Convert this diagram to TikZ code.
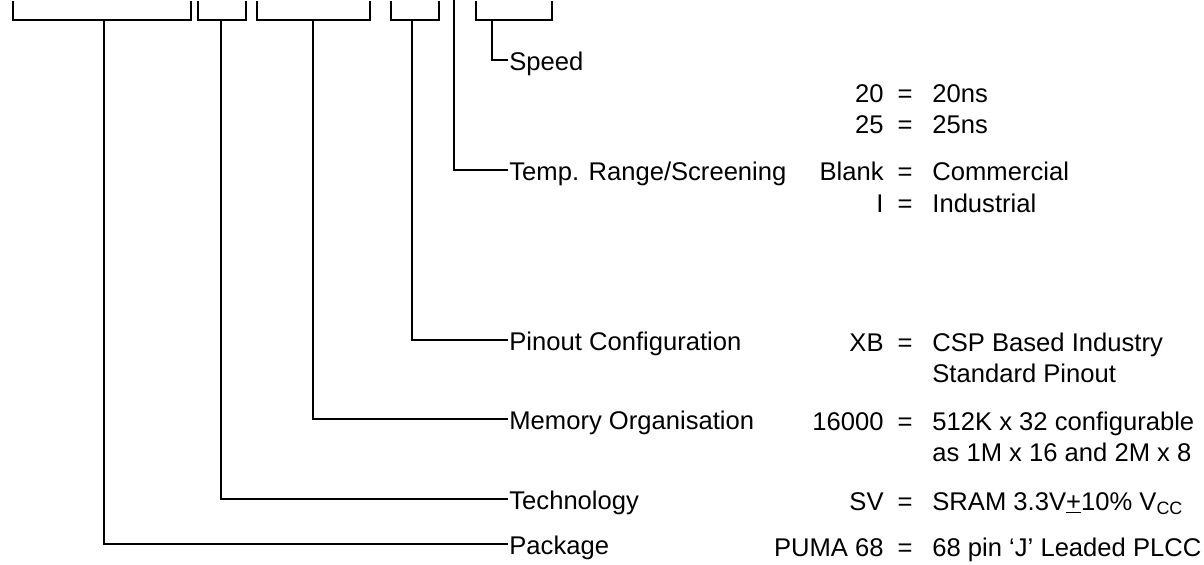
\documentclass[tikz,border=0pt]{standalone}
\usepackage{fontspec}
\setmainfont{Liberation Sans}
\usetikzlibrary{positioning}

\begin{document}
\begin{tikzpicture}[x=0.5pt, y=-0.5pt, font=\fontsize{12.8}{15}\selectfont, line width=1.4pt,
  lbl/.style={anchor=west, inner sep=0pt, text height=1em, text depth=0pt},
  val/.style={anchor=east, inner sep=0pt, text height=1em, text depth=0pt},
  eqs/.style={inner sep=0pt, text height=1em, text depth=0pt}]
  \useasboundingbox (0,0) rectangle (1204,564);
  % part number brackets (their tops run off the page)
  \foreach \xa/\xb/\xm/\n in {13/191/104/pkg, 198/246/221/tech, 257/370/313/mem, 391/439/412/pin, 476/552/492/spd} {
    \draw (\xa,1) -- (\xa,20) -- (\xb,20) -- (\xb,1);
    \coordinate (b-\n) at (\xm,20);
  }
  \coordinate (b-tmp) at (454,0);
  % field labels
  \node[lbl] (spd) at (508,60) {Speed};
  \node[lbl] (tmp) at (508,170) {Temp. Range/Screening};
  \node[lbl] (pin) at (508,340) {Pinout Configuration};
  \node[lbl] (mem) at (508,419) {Memory Organisation};
  \node[lbl] (tech) at (508,499) {Technology};
  \node[lbl] (pkg) at (508,544) {Package};
  \foreach \n in {spd, tmp, pin, mem, tech, pkg} {
    \draw (b-\n) |- (\n.west);
  }
  % codes and meanings
  \foreach \y/\v/\d in {92/20/20ns, 123/25/25ns, 170/Blank/Commercial, 202/I/Industrial,
      341/XB/CSP Based Industry, 420/16000/512K x 32 configurable,
      500/SV/{SRAM 3.3V\underline{+}10\% V\textsubscript{CC}},
      546/PUMA 68/{68 pin ‘J’ Leaded PLCC}} {
    \node[val] (v-\y) at (885,\y) {\v};
    \node[eqs] (e-\y) at (905,\y) {=};
    \node[lbl] (d-\y) at (931,\y) {\d};
  }
  \node[lbl, below=15.8pt of d-341.west, anchor=west] (d-341b) {Standard Pinout};
  \node[lbl, below=15.8pt of d-420.west, anchor=west] (d-420b) {as 1M x 16 and 2M x 8};
\end{tikzpicture}
\end{document}
